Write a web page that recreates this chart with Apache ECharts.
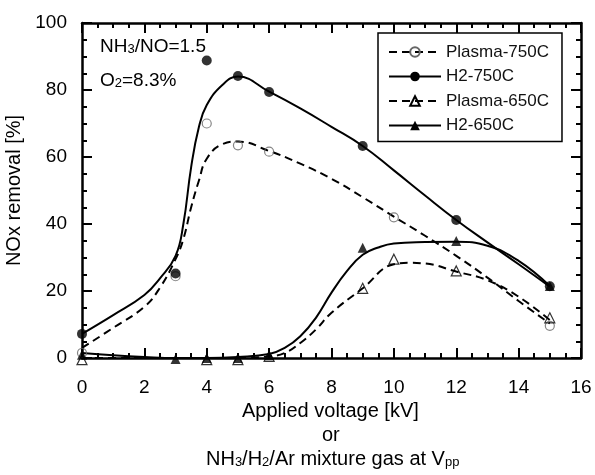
<!DOCTYPE html>
<html>
<head>
<meta charset="utf-8">
<script src="https://cdn.jsdelivr.net/npm/echarts@6/dist/echarts.min.js"></script>
<style>
  html, body { margin: 0; padding: 0; background: #fff; }
  #chart { width: 595px; height: 475px; }
</style>
</head>
<body>
<div id="chart"></div>
<script>
// measured points
const p750X = [0, 3, 4, 5, 6, 10, 15]
const p750Y = [1.5, 24.4, 70, 63.5, 61.6, 42, 9.6]
const h750X = [0, 3, 4, 5, 6, 9, 12, 15]
const h750Y = [7.2, 25.2, 88.8, 84.2, 79.4, 63.3, 41.2, 21.4]
const p650X = [0, 4, 5, 6, 9, 10, 12, 15]
const p650Y = [-0.5, -0.5, -0.5, 0.5, 20.8, 29.5, 26, 12]
const h650X = [0, 3, 4, 5, 6, 9, 12, 15]
const h650Y = [1, -0.3, 0, 0, 0.8, 32.9, 34.9, 21.5]

// fitted curves
const p750FitX = [0, 1, 2, 2.5, 3, 3.25, 3.5, 3.75, 4, 4.5, 5, 6, 7, 8, 9, 10, 11, 12, 13, 14, 15]
const p750FitY = [3, 9, 15.3, 21, 29.5, 35.5, 45, 53, 59.5, 63.8, 64.6, 61.8, 58, 53.5, 48, 42.2, 36.5, 30.5, 24, 17, 10.3]
const h750FitX = [0, 1, 2, 2.5, 3, 3.25, 3.5, 3.75, 4, 4.5, 5, 6, 7, 8, 9, 10, 11, 12, 13, 14, 15]
const h750FitY = [7.2, 12.8, 18.8, 23.8, 30.5, 40, 57, 69, 75.5, 81.5, 84, 79.5, 74.5, 69, 63.3, 56, 48.5, 41.2, 34.5, 28, 21.3]
const p650FitX = [0, 1, 2, 3, 4, 5, 6, 6.5, 7, 7.5, 8, 9, 10, 10.5, 11, 12, 13, 14, 15]
const p650FitY = [0, 0, 0, 0, 0, 0, 0.5, 1.5, 4.5, 8.5, 13.5, 20.8, 28, 28.4, 28.2, 25.8, 23.2, 18.3, 11.3]
const h650FitX = [0, 1, 2, 3, 4, 5, 6, 6.5, 7, 7.5, 8, 8.5, 9, 9.5, 10, 11, 12, 13, 14, 15]
const h650FitY = [1.5, 0.8, 0.3, 0, 0, 0.3, 1.2, 3, 6.5, 12, 19.5, 26, 30.8, 33, 34.2, 34.6, 34.7, 33.5, 29, 21.5]

const names = ['Plasma-750C', 'H2-750C', 'Plasma-650C', 'H2-650C']

const FONT = 'Liberation Sans, Arial, sans-serif'
const pair = (xs, ys) => xs.map((x, i) => [x, ys[i]])

// fresh objects for every axis
const makeAxis = (extra) => Object.assign({
  type: 'value',
  axisLine: { show: true, onZero: false, lineStyle: { color: '#000', width: 2.5 } },
  axisTick: { show: true, inside: true, length: 10, lineStyle: { color: '#000', width: 2 } },
  minorTick: { show: true, splitNumber: 4, length: 5, lineStyle: { color: '#000', width: 2 } },
  splitLine: { show: false }
}, extra)

const lineDef = (name, xs, ys, dashed, symbol, itemStyle) => ({
  name,
  type: 'line',
  data: pair(xs, ys),
  smooth: 0.45,
  clip: false,
  showSymbol: false,
  symbol,
  symbolSize: 10,
  itemStyle: Object.assign({}, itemStyle),
  lineStyle: { color: '#000', width: 2, type: dashed ? [8, 5] : 'solid' },
  z: 3
})

const dotDef = (name, xs, ys, symbol, size, itemStyle) => ({
  name: name + ' data',
  type: 'scatter',
  data: pair(xs, ys),
  clip: false,
  symbol,
  symbolSize: size,
  itemStyle: Object.assign({}, itemStyle),
  z: 4
})

const openCircle = { color: 'rgba(255,255,255,0)', borderColor: '#666', borderWidth: 1.2 }
const filled = { color: '#000' }
const openTri = { color: 'rgba(255,255,255,0)', borderColor: '#000', borderWidth: 1.2 }

const subRich = { s: { fontSize: 13, fontFamily: FONT, fill: '#000', verticalAlign: 'bottom', lineHeight: 12 } }
const label = (text, left, top, size) => ({
  type: 'text', left, top,
  style: { text, font: size + 'px ' + FONT, fill: '#000', rich: subRich }
})

const chart = echarts.init(document.getElementById('chart'))
chart.setOption({
  animation: false,
  grid: { left: 82, right: 14, top: 23, bottom: 117, containLabel: false, outerBoundsMode: 'none' },
  legend: {
    data: names,
    orient: 'vertical',
    left: 378,
    top: 33,
    padding: [10, 13, 7, 10],
    borderColor: '#000',
    borderWidth: 1.5,
    itemWidth: 52,
    itemHeight: 12,
    itemGap: 6.5,
    textStyle: { fontFamily: FONT, fontSize: 17, lineHeight: 18, color: '#111' }
  },
  xAxis: [
    makeAxis({
      min: 0, max: 16, interval: 2,
      position: 'bottom',
      axisLabel: { margin: 20, fontSize: 19, color: '#000', fontFamily: FONT }
    }),
    makeAxis({ min: 0, max: 16, interval: 2, position: 'top', axisLabel: { show: false } })
  ],
  yAxis: [
    makeAxis({
      min: 0, max: 100, interval: 20,
      position: 'left',
      axisLabel: { margin: 15, fontSize: 19, color: '#000', fontFamily: FONT },
      name: 'NOx removal [%]',
      nameLocation: 'middle',
      nameGap: 54,
      nameTextStyle: { fontFamily: FONT, fontSize: 20, color: '#000' }
    }),
    makeAxis({ min: 0, max: 100, interval: 20, position: 'right', axisLabel: { show: false } })
  ],
  graphic: [
    label('NH{s|3}/NO=1.5', 100, 37, 19),
    label('O{s|2}=8.3%', 100, 71, 19),
    { type: 'text', left: 242, top: 401, style: { text: 'Applied voltage [kV]', font: '20px ' + FONT, fill: '#000' } },
    { type: 'text', left: 322, top: 425, style: { text: 'or', font: '20px ' + FONT, fill: '#000' } },
    label('NH{s|3}/H{s|2}/Ar mixture gas at V{s|pp}', 206, 449, 20)
  ],
  series: [
    lineDef(names[0], p750FitX, p750FitY, true, 'circle', openCircle),
    lineDef(names[1], h750FitX, h750FitY, false, 'circle', filled),
    lineDef(names[2], p650FitX, p650FitY, true, 'triangle', openTri),
    lineDef(names[3], h650FitX, h650FitY, false, 'triangle', filled),
    dotDef(names[0], p750X, p750Y, 'circle', 9, openCircle),
    dotDef(names[1], h750X, h750Y, 'circle', 10, filled),
    dotDef(names[2], p650X, p650Y, 'triangle', 10, openTri),
    dotDef(names[3], h650X, h650Y, 'triangle', 10, filled)
  ]
})
</script>
</body>
</html>
